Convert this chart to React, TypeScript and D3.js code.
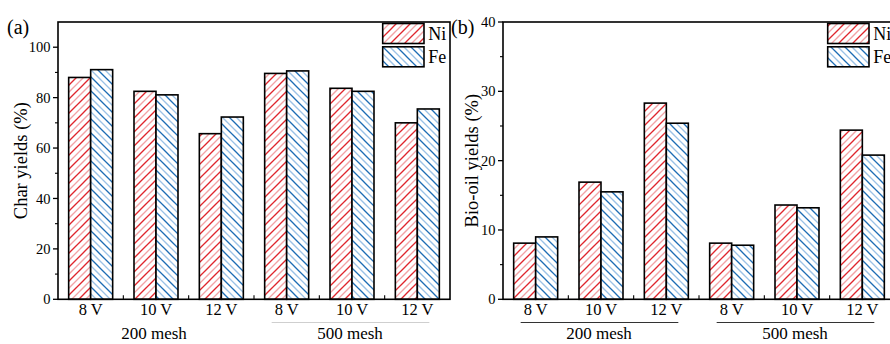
import React, { useEffect, useRef } from 'react';
import * as d3 from 'd3';

// categories
const voltages = ['8 V', '10 V', '12 V', '8 V', '10 V', '12 V'];
const meshes = ['200 mesh', '500 mesh'];
const metals = ['Ni', 'Fe'];

// series values
const charNi = [88.0, 82.5, 65.7, 89.6, 83.7, 70.0];
const charFe = [91.1, 81.1, 72.3, 90.6, 82.5, 75.5];
const oilNi = [8.1, 16.9, 28.3, 8.1, 13.6, 24.4];
const oilFe = [9.0, 15.5, 25.4, 7.8, 13.2, 20.8];

// tick labels
const charTicks = [0, 20, 40, 60, 80, 100];
const charMinor = [10, 30, 50, 70, 90];
const oilTicks = [0, 10, 20, 30, 40];
const oilMinor = [5, 15, 25, 35];

const WIDTH = 890;
const HEIGHT = 344;
const FONT = '"Liberation Serif", "Times New Roman", serif';

const App = () => {
  const svgRef = useRef<SVGSVGElement>(null);

  useEffect(() => {
    const svg = d3.select(svgRef.current);
    svg.selectAll('*').remove();

    // hatch patterns: dark + light stripes alternating
    const defs = svg.append('defs');
    const makeHatch = (id, dark, light, forward) => {
      const p = defs.append('pattern')
        .attr('id', id)
        .attr('patternUnits', 'userSpaceOnUse')
        .attr('width', 14)
        .attr('height', 14);
      p.append('rect').attr('width', 14).attr('height', 14).attr('fill', '#fff');
      const lines = forward
        ? [[-1, 15, 15, -1, dark], [-1, 1, 1, -1, dark], [13, 15, 15, 13, dark], [-1, 8, 8, -1, light], [6, 15, 15, 6, light]]
        : [[-1, -1, 15, 15, dark], [-1, 13, 1, 15, dark], [13, -1, 15, 1, dark], [-1, 6, 8, 15, light], [6, -1, 15, 8, light]];
      lines.forEach(([x1, y1, x2, y2, c]) => {
        p.append('line')
          .attr('x1', x1).attr('y1', y1).attr('x2', x2).attr('y2', y2)
          .attr('stroke', c)
          .attr('stroke-width', 1.3);
      });
    };
    makeHatch('hatch-ni', '#e0262d', '#f2a3a6', true);
    makeHatch('hatch-fe', '#1e6db5', '#9cc2e6', false);

    const fills = { Ni: 'url(#hatch-ni)', Fe: 'url(#hatch-fe)' };

    const drawPanel = (opts) => {
      const { left, right, top, bottom, yMax, ticks, minor, ni, fe, yTitle, titleX, tag, tagX, labelRight, lineColor, underlineGroups } = opts;

      const x = d3.scaleBand()
        .domain(d3.range(voltages.length))
        .range([left, right])
        .padding(0);

      const sub = d3.scaleBand()
        .domain(metals)
        .range([0, x.bandwidth()])
        .paddingOuter(0.485)
        .paddingInner(0);

      const y = d3.scaleLinear()
        .domain([0, yMax])
        .range([bottom, top]);

      const g = svg.append('g');

      // bars
      const rows = voltages.map((v, i) => ({ i, Ni: ni[i], Fe: fe[i] }));
      rows.forEach(r => {
        metals.forEach(m => {
          g.append('rect')
            .attr('x', x(r.i) + sub(m))
            .attr('y', y(r[m]))
            .attr('width', sub.bandwidth())
            .attr('height', y(0) - y(r[m]))
            .attr('fill', fills[m])
            .attr('stroke', '#000')
            .attr('stroke-width', 1.6);
        });
      });

      // frame
      g.append('rect')
        .attr('x', left)
        .attr('y', top)
        .attr('width', right - left)
        .attr('height', bottom - top)
        .attr('fill', 'none')
        .attr('stroke', '#000')
        .attr('stroke-width', 1.6);

      // y ticks
      g.selectAll('.ymaj')
        .data(ticks)
        .enter().append('line')
        .attr('x1', left - 5)
        .attr('x2', left)
        .attr('y1', d => y(d))
        .attr('y2', d => y(d))
        .attr('stroke', '#000')
        .attr('stroke-width', 1.3);

      g.selectAll('.ymin')
        .data(minor)
        .enter().append('line')
        .attr('x1', left - 3)
        .attr('x2', left)
        .attr('y1', d => y(d))
        .attr('y2', d => y(d))
        .attr('stroke', '#000')
        .attr('stroke-width', 1.1);

      g.selectAll('.ylab')
        .data(ticks)
        .enter().append('text')
        .attr('x', labelRight)
        .attr('y', d => y(d))
        .attr('dy', '0.35em')
        .attr('text-anchor', 'end')
        .style('font-family', FONT)
        .style('font-size', '14.5px')
        .style('fill', '#000')
        .text(d => d);

      // x ticks between groups (inward)
      g.selectAll('.xtick')
        .data(d3.range(1, voltages.length))
        .enter().append('line')
        .attr('x1', d => x(d))
        .attr('x2', d => x(d))
        .attr('y1', bottom)
        .attr('y2', bottom - 4)
        .attr('stroke', '#000')
        .attr('stroke-width', 1.1);

      // category labels
      g.selectAll('.xlab')
        .data(voltages)
        .enter().append('text')
        .attr('x', (d, i) => x(i) + x.bandwidth() / 2)
        .attr('y', 315)
        .attr('text-anchor', 'middle')
        .style('font-family', FONT)
        .style('font-size', '16.5px')
        .style('fill', '#000')
        .text(d => d);

      // group underlines
      underlineGroups.forEach(gi => {
        const first = gi * 3;
        const last = gi * 3 + 2;
        g.append('line')
          .attr('x1', x(first) + x.bandwidth() / 2 - 15)
          .attr('x2', x(last) + x.bandwidth() / 2 + 12)
          .attr('y1', 322.5)
          .attr('y2', 322.5)
          .attr('stroke', lineColor)
          .attr('stroke-width', 1);
      });

      g.selectAll('.mesh')
        .data(meshes)
        .enter().append('text')
        .attr('x', (d, i) => x(i * 3) + x.bandwidth() * 1.5 - 2)
        .attr('y', 339)
        .attr('text-anchor', 'middle')
        .style('font-family', FONT)
        .style('font-size', '17px')
        .style('fill', '#000')
        .text(d => d);

      // y title
      g.append('text')
        .attr('transform', `translate(${titleX},${(top + bottom) / 2}) rotate(-90)`)
        .attr('text-anchor', 'middle')
        .style('font-family', FONT)
        .style('font-size', '18.5px')
        .style('fill', '#000')
        .text(yTitle);

      // panel tag
      g.append('text')
        .attr('x', tagX)
        .attr('y', 34)
        .style('font-family', FONT)
        .style('font-size', '20px')
        .style('fill', '#000')
        .text(tag);

      // legend
      const lx = right - 67.3;
      metals.forEach((m, i) => {
        g.append('rect')
          .attr('x', lx)
          .attr('y', 23.5 + i * 23.3)
          .attr('width', 41.3)
          .attr('height', 20)
          .attr('fill', fills[m])
          .attr('stroke', '#000')
          .attr('stroke-width', 1.6);
        g.append('text')
          .attr('x', lx + 45.5)
          .attr('y', 39.5 + i * 23.3)
          .style('font-family', FONT)
          .style('font-size', '18px')
          .style('fill', '#000')
          .text(m);
      });
    };

    drawPanel({
      left: 58, right: 450, top: 22, bottom: 299.3,
      yMax: 110, ticks: charTicks, minor: charMinor,
      ni: charNi, fe: charFe,
      yTitle: 'Char yields (%)', titleX: 27, tag: '(a)', tagX: 7,
      labelRight: 50.5, lineColor: '#cfcfcf', underlineGroups: [1]
    });

    drawPanel({
      left: 503, right: 895, top: 22, bottom: 299.3,
      yMax: 40, ticks: oilTicks, minor: oilMinor,
      ni: oilNi, fe: oilFe,
      yTitle: 'Bio-oil yields (%)', titleX: 478, tag: '(b)', tagX: 451,
      labelRight: 495.5, lineColor: '#333', underlineGroups: [0, 1]
    });
  }, []);

  return (
    <svg
      ref={svgRef}
      width={WIDTH}
      height={HEIGHT}
      style={{ position: 'absolute', left: 0, top: 0, background: '#fff' }}
    ></svg>
  );
};

export default App;
